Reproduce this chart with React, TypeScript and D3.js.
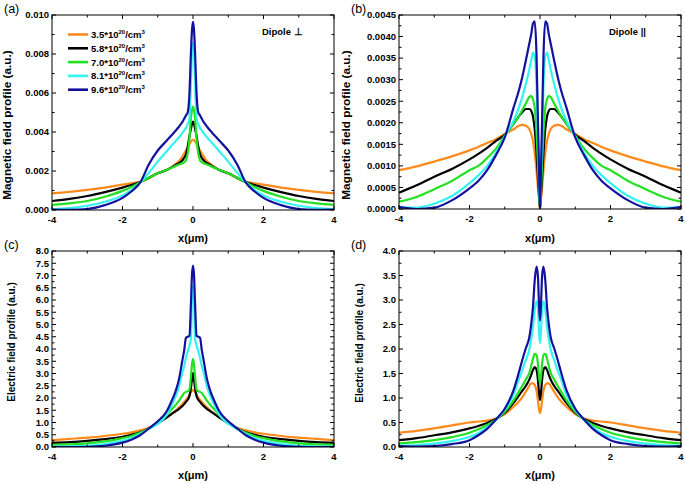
import * as d3 from 'd3'

// shared half-profile positions (µm); every curve is symmetric about x = 0
const xHalf = [0, 0.03, 0.06, 0.1, 0.15, 0.2, 0.25, 0.3, 0.4, 0.5, 0.6, 0.75, 1.0, 1.25, 1.5, 1.75, 2.0, 2.5, 3.0, 3.5, 4.0]

const densities = ['3.5', '5.8', '7.0', '8.1', '9.6']
const colors = ['#ff8a1c', '#000000', '#22e022', '#33f2f2', '#12129e']

const xMajor = [-4, -2, 0, 2, 4]
const xMinor = [-3, -1, 1, 3]

// (a) magnetic field, dipole perpendicular (values x 1e-3)
const magPerp35 = [3.6, 3.58, 3.5, 3.38, 3.2, 3.05, 2.9, 2.75, 2.5, 2.35, 2.2, 2.05, 1.88, 1.63, 1.45, 1.37, 1.3, 1.15, 1.03, 0.93, 0.85]
const magPerp58 = [4.53, 4.4, 4.15, 3.8, 3.25, 2.85, 2.68, 2.55, 2.4, 2.3, 2.2, 2.05, 1.88, 1.65, 1.43, 1.28, 1.15, 0.92, 0.72, 0.57, 0.46]
const magPerp70 = [5.3, 5.1, 4.7, 3.7, 2.9, 2.55, 2.45, 2.4, 2.33, 2.25, 2.17, 2.05, 1.88, 1.65, 1.42, 1.18, 0.98, 0.68, 0.46, 0.34, 0.26]
const magPerp81 = [8.6, 8.0, 6.5, 4.7, 4.4, 4.2, 4.08, 3.95, 3.72, 3.52, 3.32, 3.0, 2.48, 1.92, 1.4, 1.02, 0.75, 0.42, 0.22, 0.1, 0.05]
const magPerp96 = [9.65, 9.2, 8.0, 6.0, 5.0, 4.85, 4.68, 4.52, 4.27, 4.05, 3.85, 3.55, 3.05, 2.35, 1.4, 0.95, 0.62, 0.25, 0.05, 0.01, 0.02]

// (b) magnetic field, dipole parallel (values x 1e-3)
const magPar35 = [0, 0.25, 0.5, 0.9, 1.3, 1.58, 1.75, 1.85, 1.93, 1.95, 1.93, 1.85, 1.74, 1.62, 1.53, 1.44, 1.36, 1.22, 1.1, 0.99, 0.9]
const magPar58 = [0, 0.35, 0.75, 1.3, 1.85, 2.15, 2.28, 2.32, 2.32, 2.25, 2.15, 1.98, 1.72, 1.58, 1.42, 1.28, 1.15, 0.93, 0.75, 0.55, 0.38]
const magPar70 = [0, 0.5, 1.1, 1.8, 2.35, 2.55, 2.62, 2.6, 2.45, 2.3, 2.15, 1.98, 1.7, 1.4, 1.18, 1.0, 0.9, 0.65, 0.46, 0.28, 0.17]
const magPar81 = [0, 0.8, 1.7, 2.9, 3.55, 3.62, 3.45, 3.25, 2.9, 2.6, 2.35, 2.05, 1.68, 1.3, 1.0, 0.78, 0.6, 0.3, 0.12, 0.03, 0.05]
const magPar96 = [0, 1.0, 2.1, 3.6, 4.35, 4.3, 4.05, 3.85, 3.45, 3.07, 2.75, 2.35, 1.66, 1.25, 0.9, 0.65, 0.48, 0.2, 0.03, 0.0, 0.05]

// (c) electric field, dipole perpendicular
const elPerp35 = [2.33, 2.3, 2.24, 2.12, 2.02, 1.92, 1.84, 1.76, 1.62, 1.48, 1.37, 1.2, 0.97, 0.78, 0.68, 0.6, 0.54, 0.45, 0.38, 0.33, 0.28]
const elPerp58 = [3.02, 2.75, 2.4, 2.08, 1.93, 1.84, 1.75, 1.67, 1.55, 1.45, 1.35, 1.2, 0.97, 0.76, 0.6, 0.5, 0.42, 0.32, 0.25, 0.2, 0.17]
const elPerp70 = [3.6, 3.35, 2.85, 2.35, 2.27, 2.25, 2.2, 2.1, 1.88, 1.7, 1.55, 1.3, 1.02, 0.76, 0.58, 0.45, 0.36, 0.23, 0.15, 0.11, 0.09]
const elPerp81 = [6.6, 6.0, 4.4, 4.15, 3.9, 3.65, 3.3, 3.05, 2.45, 2.05, 1.73, 1.3, 0.95, 0.74, 0.52, 0.36, 0.25, 0.12, 0.05, 0.03, 0.02]
const elPerp96 = [7.4, 7.0, 5.8, 4.55, 4.5, 4.45, 3.95, 3.55, 2.75, 2.25, 1.9, 1.45, 1.05, 0.76, 0.48, 0.3, 0.18, 0.05, 0.01, 0.0, 0.0]

// (d) electric field, dipole parallel
const elPar35 = [0.69, 0.78, 0.95, 1.15, 1.27, 1.3, 1.3, 1.25, 1.13, 1.02, 0.93, 0.82, 0.67, 0.58, 0.54, 0.52, 0.5, 0.44, 0.38, 0.33, 0.29]
const elPar58 = [0.96, 1.12, 1.38, 1.58, 1.63, 1.57, 1.47, 1.38, 1.25, 1.15, 1.05, 0.9, 0.7, 0.57, 0.49, 0.43, 0.38, 0.3, 0.24, 0.18, 0.14]
const elPar70 = [1.3, 1.45, 1.7, 1.88, 1.9, 1.8, 1.65, 1.52, 1.38, 1.25, 1.13, 0.95, 0.72, 0.56, 0.45, 0.36, 0.29, 0.2, 0.14, 0.1, 0.075]
const elPar81 = [2.12, 2.4, 2.85, 2.97, 2.8, 2.45, 2.2, 2.0, 1.78, 1.57, 1.38, 1.07, 0.76, 0.55, 0.4, 0.28, 0.21, 0.12, 0.07, 0.04, 0.03]
const elPar96 = [2.58, 2.95, 3.5, 3.68, 3.4, 2.85, 2.5, 2.25, 2.02, 1.78, 1.52, 1.16, 0.78, 0.56, 0.37, 0.24, 0.14, 0.06, 0.02, 0.01, 0.02]

const FONT = 'Arial, "Liberation Sans", sans-serif'

type Box = { l: number; r: number; t: number; b: number }

function mirror(vals: number[]): [number, number][] {
  const left = xHalf.slice(1).map((x, i) => [-x, vals[i + 1]] as [number, number]).reverse()
  const right = xHalf.map((x, i) => [x, vals[i]] as [number, number])
  return left.concat(right)
}

interface PanelProps {
  id: string
  box: Box
  yMax: number
  yStep: number
  digits: number
  unit: number
  series: number[][]
  label: string
  yTitle: string
  titleSize: number
  titleX: number
  titleY: number
  xTitleY: number
  note?: string
  legend?: boolean
}

function Panel(p: PanelProps) {
  const { box } = p
  const x = d3.scaleLinear().domain([-4, 4]).range([box.l, box.r])
  const y = d3.scaleLinear().domain([0, p.yMax]).range([box.b, box.t])
  const line = d3
    .line<[number, number]>()
    .x(d => x(d[0]))
    .y(d => y(d[1] * p.unit))
    .curve(d3.curveMonotoneX)

  const n = Math.round(p.yMax / p.yStep)
  const yMajor = d3.range(0, n + 1).map(i => i * p.yStep)
  const yMinor = d3.range(0, n).map(i => (i + 0.5) * p.yStep)

  return (
    <g>
      <defs>
        <clipPath id={`clip-${p.id}`}>
          <rect x={box.l} y={box.t - 2} width={box.r - box.l} height={box.b - box.t + 2} />
        </clipPath>
      </defs>

      <g clipPath={`url(#clip-${p.id})`}>
        {p.series.map((vals, i) => (
          <path key={i} d={line(mirror(vals)) || ''} fill="none" stroke={colors[i]} strokeWidth={2.2} strokeLinejoin="round" />
        ))}
      </g>

      {/* frame */}
      <rect x={box.l} y={box.t} width={box.r - box.l} height={box.b - box.t} fill="none" stroke="#000" strokeWidth={1} />

      {/* x ticks, inward on bottom and top */}
      {xMajor.map(v => (
        <g key={`xm${v}`}>
          <line x1={x(v)} x2={x(v)} y1={box.b} y2={box.b - 4} stroke="#000" />
          <line x1={x(v)} x2={x(v)} y1={box.t} y2={box.t + 4} stroke="#000" />
          <text x={x(v)} y={box.b + 13} textAnchor="middle" fontSize={9.5} fontWeight="bold" fontFamily={FONT}>
            {v}
          </text>
        </g>
      ))}
      {xMinor.map(v => (
        <g key={`xn${v}`}>
          <line x1={x(v)} x2={x(v)} y1={box.b} y2={box.b - 2.5} stroke="#000" />
          <line x1={x(v)} x2={x(v)} y1={box.t} y2={box.t + 2.5} stroke="#000" />
        </g>
      ))}

      {/* y ticks, inward on left and right */}
      {yMajor.map(v => (
        <g key={`ym${v}`}>
          <line x1={box.l} x2={box.l + 4} y1={y(v)} y2={y(v)} stroke="#000" />
          <line x1={box.r} x2={box.r - 4} y1={y(v)} y2={y(v)} stroke="#000" />
          <text x={box.l - 3} y={y(v) + 3.3} textAnchor="end" fontSize={9.5} fontWeight="bold" fontFamily={FONT}>
            {v.toFixed(p.digits)}
          </text>
        </g>
      ))}
      {yMinor.map(v => (
        <g key={`yn${v}`}>
          <line x1={box.l} x2={box.l + 2.5} y1={y(v)} y2={y(v)} stroke="#000" />
          <line x1={box.r} x2={box.r - 2.5} y1={y(v)} y2={y(v)} stroke="#000" />
        </g>
      ))}

      {/* titles */}
      <text x={(box.l + box.r) / 2} y={p.xTitleY} textAnchor="middle" fontSize={11} fontWeight="bold" fontFamily={FONT}>
        x(μm)
      </text>
      <text
        transform={`translate(${p.titleX},${p.titleY}) rotate(-90)`}
        textAnchor="middle"
        fontSize={p.titleSize}
        fontWeight="bold"
        fontFamily={FONT}
      >
        {p.yTitle}
      </text>
      <text x={box.l - 48} y={box.t - 2} fontSize={12.5} fontFamily={FONT}>
        {p.label}
      </text>

      {p.note && (
        <text x={box.r - 72} y={box.t + 20} fontSize={9.5} fontWeight="bold" fontFamily={FONT}>
          {p.note}
        </text>
      )}

      {p.legend &&
        densities.map((d, i) => {
          const ly = box.t + 19.5 + i * 13.8
          return (
            <g key={d}>
              <line x1={box.l + 16} x2={box.l + 36} y1={ly} y2={ly} stroke={colors[i]} strokeWidth={2.6} />
              <text x={box.l + 39} y={ly + 3.4} fontSize={9.5} fontWeight="bold" fontFamily={FONT}>
                {d}*10
                <tspan dy={-4} fontSize={6}>20</tspan>
                <tspan dy={4}>/cm</tspan>
                <tspan dy={-4} fontSize={6}>3</tspan>
              </text>
            </g>
          )
        })}
    </g>
  )
}

export default function App() {
  return (
    <svg
      width={685}
      height={484}
      style={{ position: 'absolute', left: 0, top: 0, background: '#fff', display: 'block' }}
    >
      <Panel
        id="a"
        box={{ l: 52, r: 334, t: 15, b: 210 }}
        yMax={0.01}
        yStep={0.002}
        digits={3}
        unit={1e-3}
        series={[magPerp35, magPerp58, magPerp70, magPerp81, magPerp96]}
        label="(a)"
        yTitle="Magnetic field profile (a.u.)"
        titleSize={11.8}
        titleX={11}
        titleY={125}
        xTitleY={242}
        note="Dipole ⊥"
        legend
      />
      <Panel
        id="b"
        box={{ l: 399, r: 681, t: 15, b: 209 }}
        yMax={0.0045}
        yStep={0.0005}
        digits={4}
        unit={1e-3}
        series={[magPar35, magPar58, magPar70, magPar81, magPar96]}
        label="(b)"
        yTitle="Magnetic field profile (a.u.)"
        titleSize={11.8}
        titleX={350}
        titleY={125}
        xTitleY={242}
        note="Dipole ||"
      />
      <Panel
        id="c"
        box={{ l: 52, r: 334, t: 251, b: 447 }}
        yMax={8}
        yStep={0.5}
        digits={1}
        unit={1}
        series={[elPerp35, elPerp58, elPerp70, elPerp81, elPerp96]}
        label="(c)"
        yTitle="Electric field profile (a.u.)"
        titleSize={10}
        titleX={15}
        titleY={342}
        xTitleY={479}
      />
      <Panel
        id="d"
        box={{ l: 399, r: 681, t: 251, b: 447 }}
        yMax={4}
        yStep={0.5}
        digits={1}
        unit={1}
        series={[elPar35, elPar58, elPar70, elPar81, elPar96]}
        label="(d)"
        yTitle="Electric field profile (a.u.)"
        titleSize={10}
        titleX={363}
        titleY={343}
        xTitleY={479}
      />
    </svg>
  )
}
